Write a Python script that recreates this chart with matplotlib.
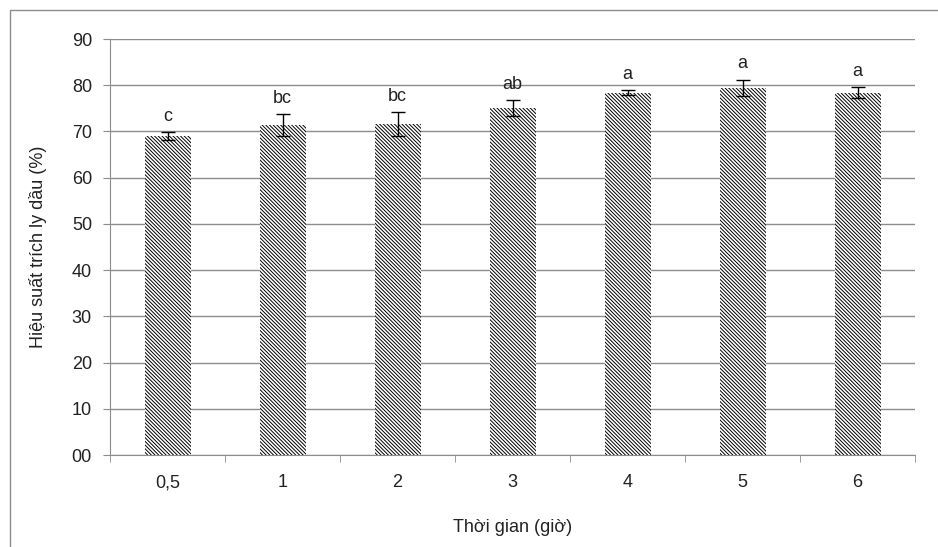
import matplotlib
matplotlib.use("Agg")
import matplotlib.pyplot as plt
from matplotlib.patches import Rectangle
import numpy as np

categories = ["0,5", "1", "2", "3", "4", "5", "6"]
yield_pct = [69.0, 71.4, 71.6, 75.1, 78.4, 79.4, 78.4]
err = [0.9, 2.3, 2.6, 1.7, 0.55, 1.8, 1.2]
letters = ["c", "bc", "bc", "ab", "a", "a", "a"]

plt.rcParams["font.family"] = ["Liberation Sans", "DejaVu Sans"]
plt.rcParams["hatch.color"] = "black"
plt.rcParams["hatch.linewidth"] = 0.7

W, H = 938, 547
fig = plt.figure(figsize=(W / 100, H / 100), dpi=100)
ax = fig.add_axes([110 / W, 1 - 455 / H, 805 / W, 416 / H])

# outer chart frame (Excel style)
fig.patches.append(Rectangle((10 / W, -0.1), 1.1, 1 - 10 / H + 0.1, transform=fig.transFigure,
                             fill=False, edgecolor="#8c8c8c", linewidth=1.0))

x = np.arange(len(categories))
ax.bar(x, yield_pct, width=0.4, color="white", edgecolor="black", linewidth=0,
       hatch="\\" * 9, zorder=3)
ax.errorbar(x, yield_pct, yerr=err, fmt="none", ecolor="black", elinewidth=1,
            capsize=5, capthick=1, zorder=4)
for xi, v, e, lab in zip(x, yield_pct, err, letters):
    ax.text(xi, v + e + 1.6, lab, ha="center", va="bottom", fontsize=13, color="#222222")

ax.set_xlim(-0.5, len(categories) - 0.5)
ax.set_ylim(0, 90)
ax.set_yticks(np.arange(0, 91, 10))
ax.set_yticklabels([f"{v:02d}" for v in range(0, 91, 10)], fontsize=13, color="#222222")
ax.set_xticks(x)
ax.set_xticklabels(categories, fontsize=13, color="#222222")
ax.set_xticks(np.arange(-0.5, len(categories), 1), minor=True)
ax.tick_params(axis="x", which="major", length=0, pad=14)
ax.tick_params(axis="x", which="minor", length=5, color="#8c8c8c")
ax.tick_params(axis="y", length=5, color="#8c8c8c", pad=8)
ax.yaxis.grid(True, color="#8c8c8c", linewidth=1, zorder=0)
ax.set_axisbelow(True)
for s in ["top", "right"]:
    ax.spines[s].set_visible(False)
for s in ["left", "bottom"]:
    ax.spines[s].set_color("#8c8c8c")

ax.set_xlabel("Thời gian (giờ)", fontsize=13, color="#222222", labelpad=20)
ax.set_ylabel("Hiệu suất trích ly dầu (%)", fontsize=13, color="#222222", labelpad=18)

fig.savefig("out.png", dpi=100)
